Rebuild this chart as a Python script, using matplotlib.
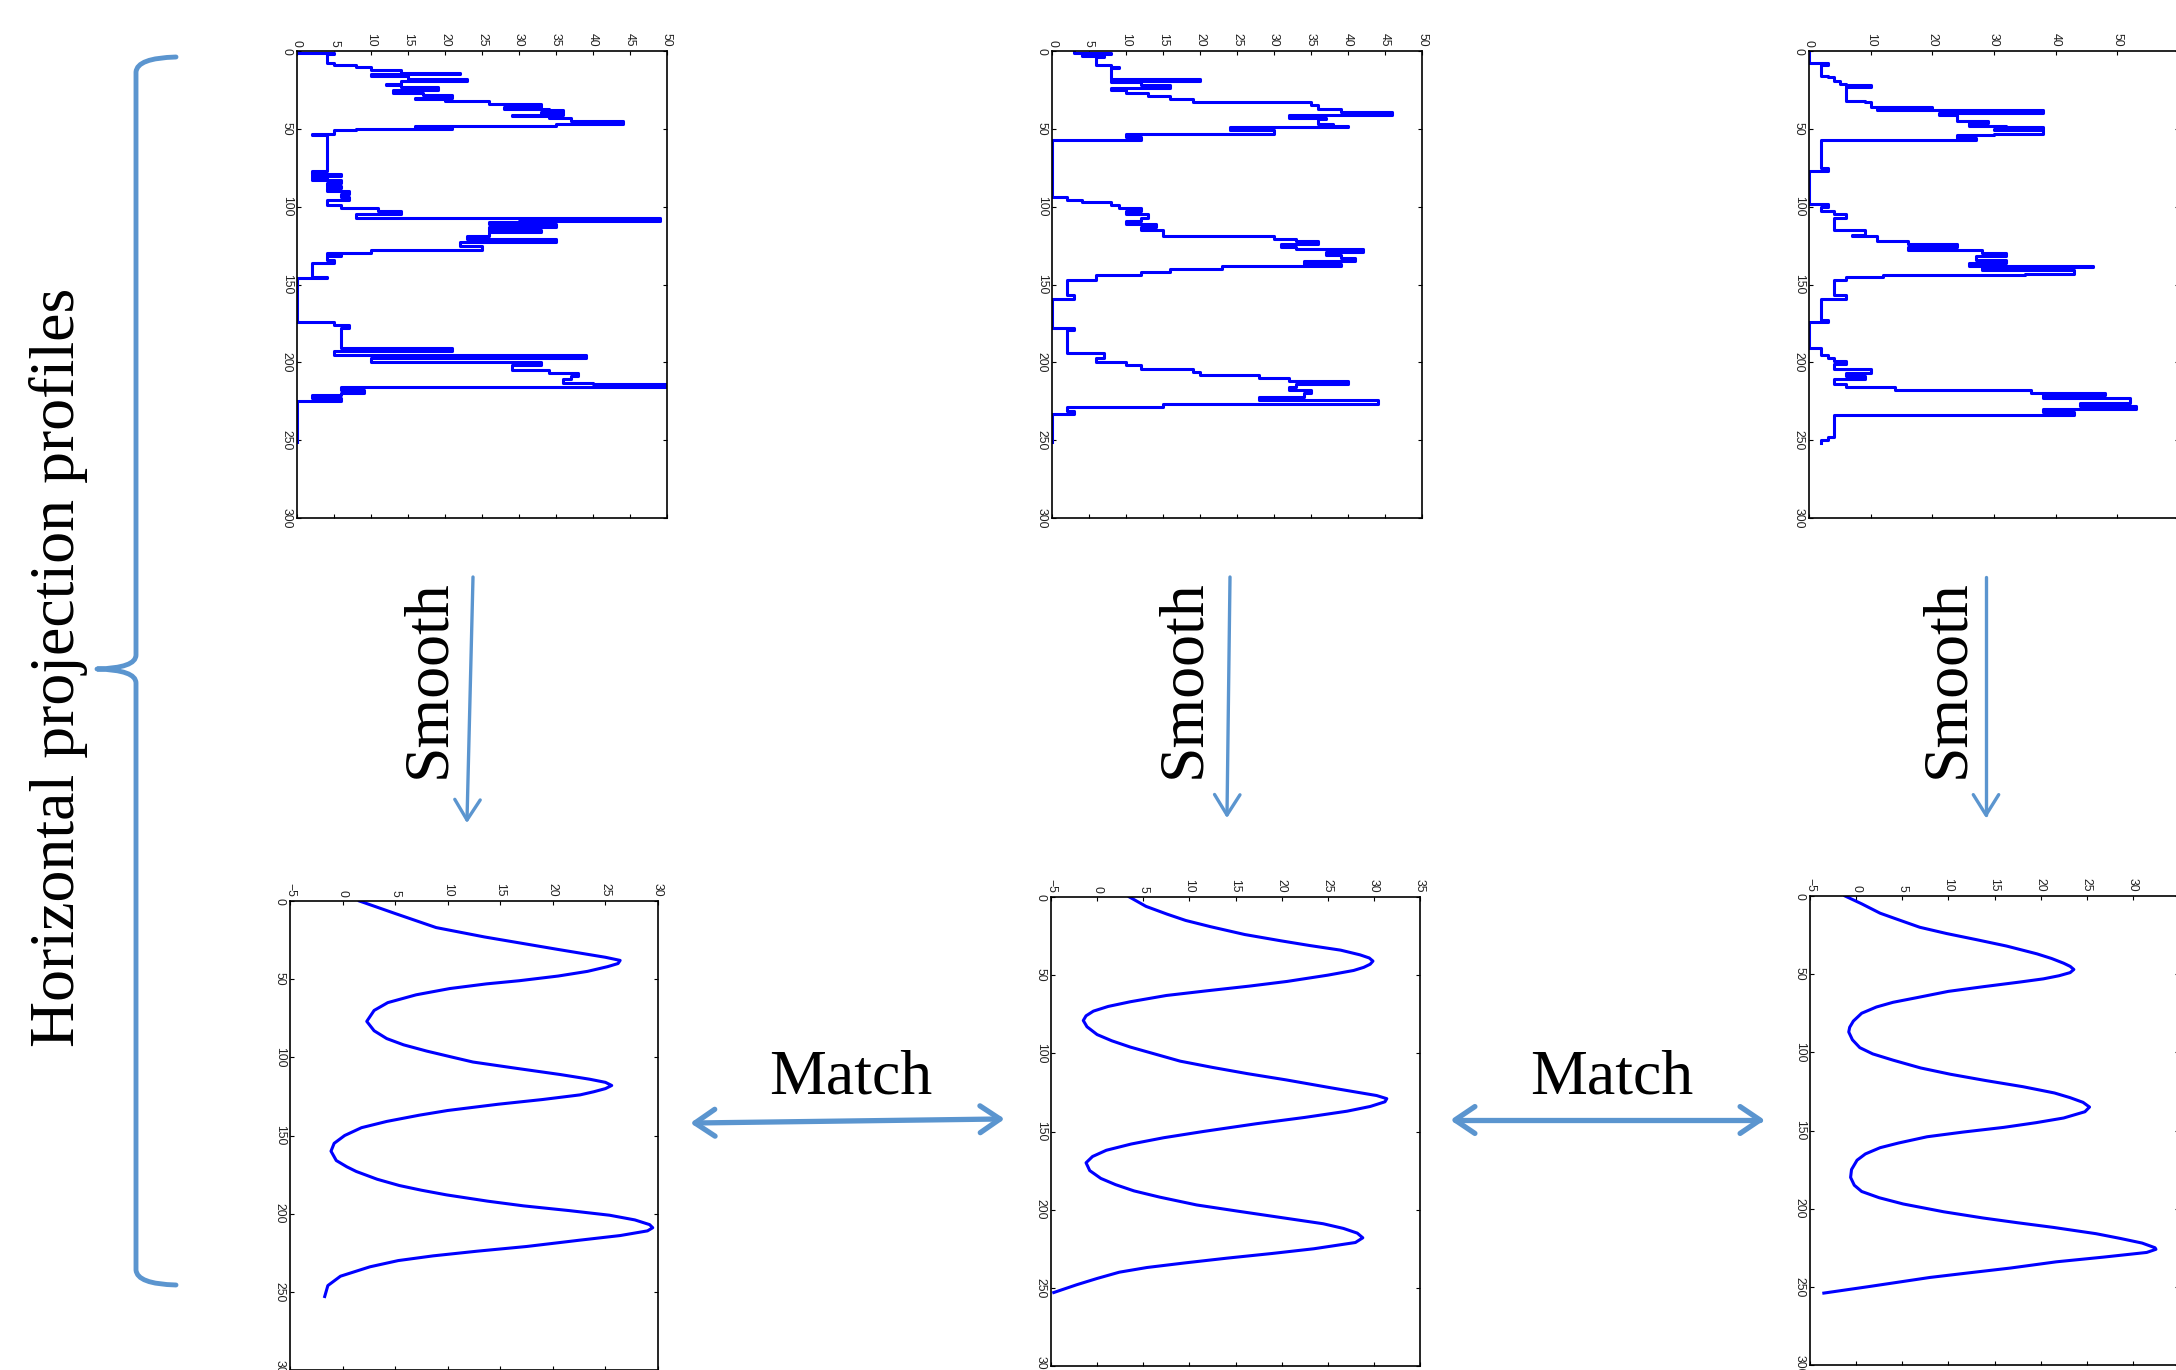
# projection profiles figure: raw profiles (top), smoothed (bottom),
# drawn rotated like the matlab plots, plus arrows/brace/labels
import numpy as np
import matplotlib
matplotlib.use('Agg')
import matplotlib.pyplot as plt
from matplotlib.path import Path
from matplotlib.patches import PathPatch

plt.rcParams['font.family'] = ['Liberation Sans', 'DejaVu Sans']

# ---- raw profiles (row where a value starts, value held until next row)
tl_rows = [0,1,2,8,9,10,12,14,15,16,18,19,21,22,23,25,27,28,30,31,32,34,36,37,38,39,40,41,42,43,
           45,47,48,49,50,51,53,54,77,79,80,81,82,83,85,87,88,90,92,94,96,99,101,103,105,107,109,110,111,113,
           115,116,119,121,123,125,128,130,131,132,134,136,145,146,174,176,178,191,193,195,197,200,202,205,207,209,211,213,214,216,
           218,220,221,223,225,251]
tl_vals = [0,5,4,5,8,10,14,22,10,15,23,14,12,14,19,13,17,21,16,20,26,33,28,34,36,33,36,29,34,37,
           44,35,16,21,8,5,2,4,2,6,2,4,2,6,4,6,4,7,6,7,4,6,11,14,8,49,30,26,35,26,
           33,26,23,35,22,25,10,4,6,4,5,2,4,0,5,7,6,21,5,39,10,33,29,34,38,37,36,40,50,6,
           9,6,2,6,0,0]

tm_rows = [0,1,2,3,4,9,10,11,18,19,20,22,24,25,27,29,31,33,35,37,39,41,43,44,47,48,49,51,53,55,
           57,94,96,97,99,101,103,105,107,109,111,113,115,119,121,122,124,126,127,129,131,133,135,137,138,140,142,144,147,157,
           159,178,179,194,197,200,202,204,206,208,210,212,214,216,218,220,222,224,227,229,231,233,251]
tm_vals = [3,8,4,7,6,8,9,8,20,8,12,16,8,10,13,16,19,35,36,39,46,32,37,36,38,40,24,30,10,12,
           0,2,4,8,9,12,10,13,12,10,14,12,15,30,33,36,31,33,42,37,39,41,34,39,23,16,12,6,2,3,
           0,3,2,7,6,10,12,19,20,28,32,40,33,32,35,34,28,44,15,2,3,0,0]

tr_rows = [0,8,9,16,17,19,21,22,23,32,33,36,37,38,40,41,45,46,48,49,50,51,53,54,56,57,75,77,98,100,
           103,105,107,115,118,119,122,124,126,128,130,132,134,136,138,139,141,143,144,145,147,157,159,173,174,191,195,197,199,201,
           204,207,209,211,214,216,218,220,221,223,226,228,230,232,234,248,250,252]
tr_vals = [0,3,2,3,4,5,6,10,6,9,10,20,11,38,21,24,29,26,32,38,30,38,30,24,27,2,3,0,3,2,
           4,6,4,9,7,11,16,24,16,28,32,27,32,26,46,28,43,35,12,6,4,6,2,3,0,2,3,4,6,4,
           10,6,9,4,6,14,36,48,38,52,44,53,38,43,4,3,2,2]

# ---- smoothed profiles
bl_rows = [0,8,17,23,27,31,34,36,38,40,42,45,48,51,53,56,60,65,70,77,83,88,92,96,100,103,107,111,114,116,
           118,120,122,124,127,130,134,137,141,145,150,155,160,166,170,173,178,182,185,188,192,195,198,201,204,207,209,211,214,217,
           221,224,227,230,234,240,246,253]
bl_vals = [1.6,5.0,8.9,13.5,17.0,20.5,23.2,25.0,26.4,26.2,25.2,23.3,20.5,16.8,13.7,10.2,7.0,4.3,3.0,2.3,
           3.0,4.2,5.8,8.0,10.5,12.4,16.5,20.7,23.5,25.0,25.6,25.0,23.9,22.6,19.0,14.8,10.0,7.3,4.2,1.8,
           0.2,-0.8,-1.1,-0.6,0.4,1.3,3.3,5.4,7.5,9.9,13.8,17.2,21.5,25.4,27.8,29.2,29.5,29.0,26.4,22.5,
           17.5,12.8,8.6,5.3,2.6,-0.2,-1.4,-1.7]

bm_rows = [0,6,11,15,19,24,28,31,34,37,39,41,43,45,47,50,54,57,60,63,67,70,73,76,79,83,88,92,96,100,
           105,109,113,117,122,125,127,129,131,134,137,141,145,150,154,158,162,166,170,175,180,184,188,192,197,201,205,209,212,215,
           218,221,225,228,231,234,237,240,244,248,253]
bm_vals = [3.5,5.3,7.6,9.6,12.3,16.0,19.9,23.0,26.4,28.5,29.5,29.9,29.6,28.9,27.8,25.0,20.6,16.5,11.9,7.5,
           3.6,1.2,-0.4,-1.2,-1.5,-1.1,0.0,1.6,3.6,6.0,9.0,12.5,16.3,20.5,25.3,28.3,30.3,31.4,31.2,29.6,
           27.1,22.5,17.3,11.5,7.2,3.7,1.0,-0.5,-1.2,-0.8,0.4,2.0,4.0,6.8,10.8,15.3,19.9,24.5,26.7,28.2,
           28.8,28.0,23.5,19.0,14.1,9.6,5.4,2.4,0.0,-2.2,-4.7]

br_rows = [0,5,11,15,20,24,28,32,37,40,43,45,47,49,51,53,55,58,61,65,68,71,75,80,84,87,92,97,101,105,
           110,114,118,122,126,129,132,135,138,142,145,148,151,154,158,161,165,169,175,180,185,189,193,197,202,206,209,212,216,219,
           222,225,226,228,231,234,238,241,244,247,250,254]
br_vals = [-1.2,0.6,2.6,4.5,6.9,9.8,13.1,16.3,19.6,21.2,22.5,23.2,23.6,23.2,22.0,20.3,17.8,13.8,10.0,6.6,
           4.0,2.2,0.6,-0.3,-0.7,-0.8,-0.4,0.4,1.8,4.0,7.0,10.2,14.0,18.1,21.5,23.2,24.6,25.3,24.8,22.5,
           19.5,16.0,11.6,7.7,4.6,2.6,1.0,0.1,-0.5,-0.6,-0.2,0.6,2.5,5.1,9.5,13.8,17.5,21.4,26.0,28.6,
           31.0,32.4,32.5,31.5,26.8,21.7,16.7,12.3,8.0,4.6,1.2,-3.5]

row_ticks = [0, 50, 100, 150, 200, 250, 300]

W, H = 2176, 1370
blue_ann = '#5b95cf'
fig = plt.figure(figsize=(W/100, H/100), dpi=100)


def px_axes(l, t, r, b):
    # axes from pixel box (left, top, right, bottom) in image coords
    return fig.add_axes([l/W, 1 - b/H, (r - l)/W, (b - t)/H])


def setup(ax, xlim, xticks):
    ax.set_xlim(*xlim)
    ax.set_ylim(300, 0)
    ax.set_xticks(xticks)
    ax.set_yticks(row_ticks)
    ax.tick_params(direction='in', length=3, width=0.8, top=True, bottom=True,
                   left=True, right=True, labeltop=True, labelbottom=False,
                   labelsize=8.8, labelcolor='#222222', pad=3)
    ax.tick_params(axis='x', labelrotation=-90)
    ax.tick_params(axis='y', labelrotation=-90)
    for t in ax.get_yticklabels():
        t.set_va('center')
    for s in ax.spines.values():
        s.set_linewidth(1.2)


raw = [((297, 51, 667, 518), (0, 50), np.arange(0, 51, 5), tl_rows, tl_vals),
       ((1052, 51, 1422, 518), (0, 50), np.arange(0, 51, 5), tm_rows, tm_vals),
       ((1809, 51, 2179, 518), (0, 60), np.arange(0, 61, 10), tr_rows, tr_vals)]
for rect, xl, xt, r, v in raw:
    ax = px_axes(*rect)
    setup(ax, xl, xt)
    ax.plot(v, r, color='#0000ff', lw=2.2, drawstyle='steps-pre')

smooth = [((290, 901, 658, 1370), (-5, 30), np.arange(-5, 31, 5), bl_rows, bl_vals),
          ((1051, 897, 1420, 1366), (-5, 35), np.arange(-5, 36, 5), bm_rows, bm_vals),
          ((1810, 896, 2179, 1365), (-5, 35), np.arange(-5, 36, 5), br_rows, br_vals)]
for rect, xl, xt, r, v in smooth:
    ax = px_axes(*rect)
    setup(ax, xl, xt)
    ax.plot(v, r, color='#0000ff', lw=2.2)

# overlay in image pixel coords for the annotations
ov = fig.add_axes([0, 0, 1, 1], zorder=10)
ov.patch.set_alpha(0)
ov.set_axis_off()
ov.set_xlim(0, W)
ov.set_ylim(H, 0)


def arrow(p0, p1, lw, head_len, head_ang, both=False):
    p0 = np.array(p0, float)
    p1 = np.array(p1, float)
    ov.plot([p0[0], p1[0]], [p0[1], p1[1]], color=blue_ann, lw=lw,
            solid_capstyle='round')
    tips = [(p1, p1 - p0)]
    if both:
        tips.append((p0, p0 - p1))
    for tip, d in tips:
        d = d / np.hypot(*d)
        pts = []
        for s in (1, -1):
            a = np.radians(head_ang) * s
            rot = np.array([[np.cos(a), -np.sin(a)], [np.sin(a), np.cos(a)]])
            pts.append(tip - head_len * rot.dot(d))
        ov.plot([pts[0][0], tip[0], pts[1][0]], [pts[0][1], tip[1], pts[1][1]],
                color=blue_ann, lw=lw, solid_capstyle='round', solid_joinstyle='round')


# smooth arrows
arrow((473, 577), (467, 820), 2.4, 24, 32)
arrow((1230, 577), (1227, 815), 2.4, 24, 32)
arrow((1986, 577), (1986, 815), 2.4, 24, 32)
# match arrows
arrow((695, 1123), (1000, 1119), 3.8, 24, 34, both=True)
arrow((1455, 1120), (1760, 1120), 3.8, 24, 34, both=True)

# brace
verts = [(176, 57), (137, 58), (136, 72), (136, 655), (136, 668), (97, 669),
         (136, 670), (136, 683), (136, 1270), (137, 1284), (176, 1285)]
codes = [Path.MOVETO, Path.CURVE3, Path.CURVE3, Path.LINETO, Path.CURVE3, Path.CURVE3,
         Path.CURVE3, Path.CURVE3, Path.LINETO, Path.CURVE3, Path.CURVE3]
ov.add_patch(PathPatch(Path(verts, codes), fill=False, edgecolor=blue_ann, lw=3.5,
                       capstyle='round', joinstyle='round'))

serif = dict(family='Liberation Serif', fontsize=46, color='black')
ov.text(74, 667, 'Horizontal projection profiles', rotation=90, rotation_mode='anchor',
        ha='center', va='baseline', **serif)
for x in (444, 1199, 1963):
    ov.text(x, 679, 'Smooth', rotation=90, rotation_mode='anchor',
            ha='center', va='baseline', **serif)
for x in (851, 1612):
    ov.text(x, 1094, 'Match', ha='center', va='baseline', **serif)

fig.savefig('out.png', dpi=100)
